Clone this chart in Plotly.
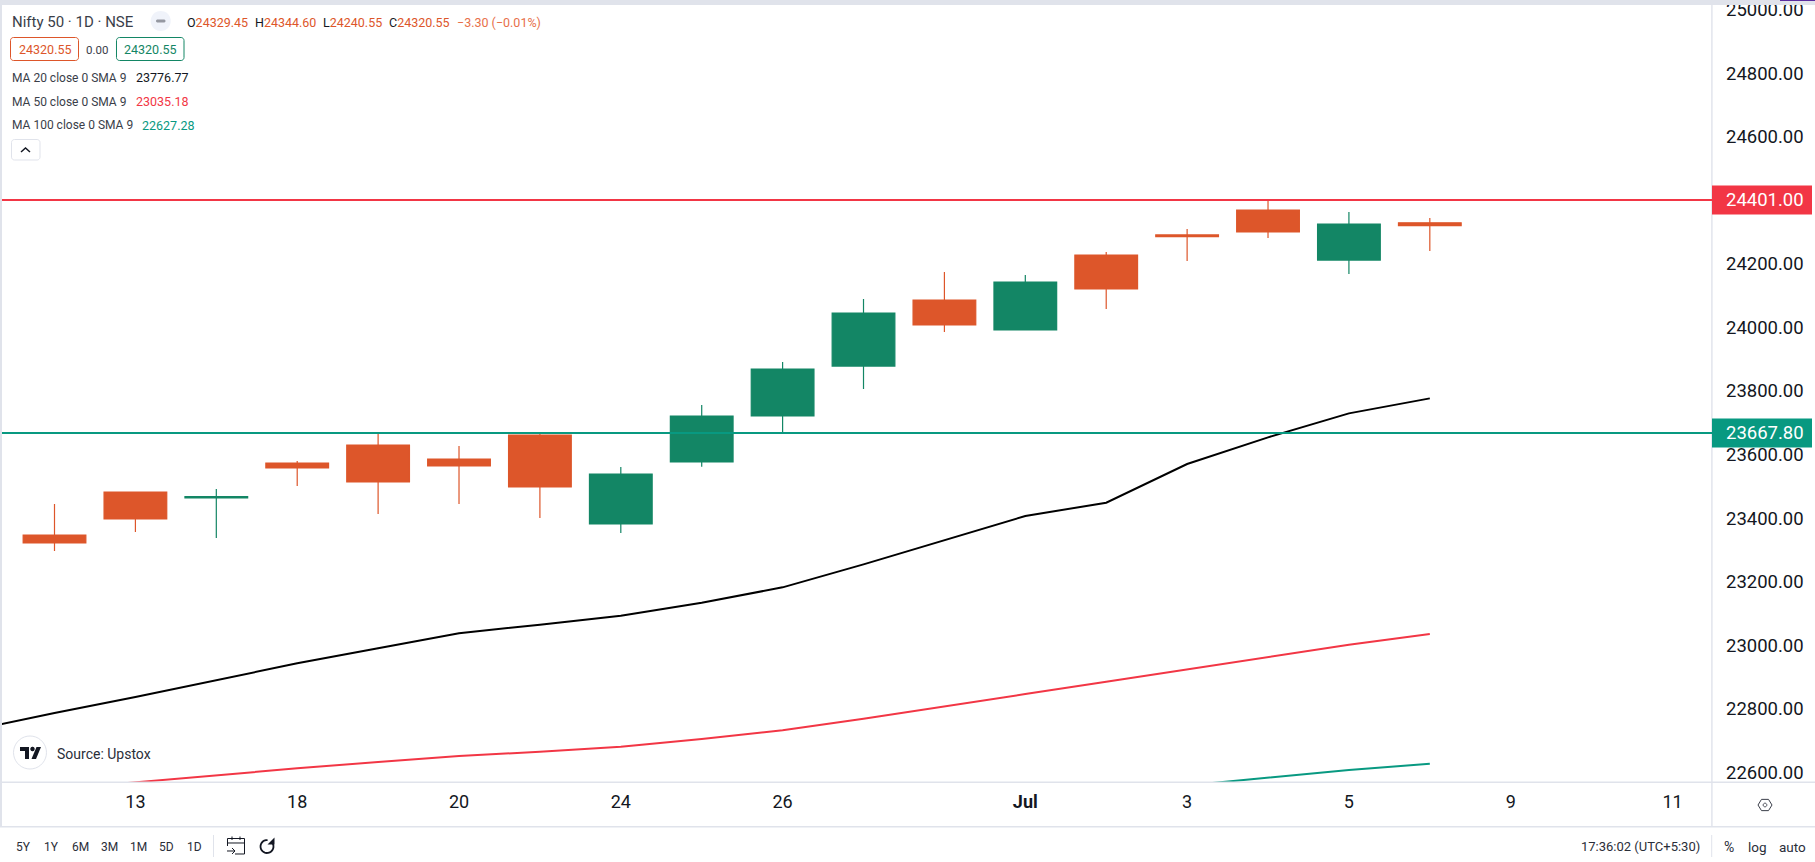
import math
import plotly.graph_objects as go

# ---------- data ----------
sessions = list(range(18))
opens = [23346.9, 23482.2, 23463.5, 23573.5, 23630.1, 23586.0, 23661.6, 23381.5, 23576.6, 23721.3, 23878.6, 24086.3, 23992.0, 24228.0, 24291.0, 24369.5, 24212.0, 24329.45]
highs = [23444.5, 23482.2, 23491.6, 23579.7, 23666.8, 23627.0, 23667.0, 23560.9, 23755.9, 23891.2, 24089.5, 24174.4, 24165.0, 24237.4, 24309.7, 24401.0, 24363.0, 24344.60]
lows = [23296.6, 23356.0, 23337.4, 23501.1, 23413.0, 23444.5, 23400.4, 23353.2, 23562.0, 23671.0, 23806.3, 23985.6, 23992.0, 24058.0, 24209.0, 24281.4, 24168.0, 24240.55]
closes = [23321.7, 23397.2, 23467.5, 23557.7, 23513.7, 23564.0, 23498.0, 23538.8, 23721.3, 23869.2, 24045.4, 24007.7, 24143.0, 24121.0, 24286.0, 24300.3, 24325.5, 24320.55]

ma20_sessions = list(range(-1, 18))
ma20_values = [22733.3, 22786.8, 22837.1, 22889.6, 22943.1, 22990.3, 23037.5, 23064.8, 23093.1, 23133.9,
               23182.2, 23254.6, 23331.1, 23406.6, 23448.6, 23570.3, 23654.2, 23729.7, 23776.77]
ma50_sessions = list(range(0, 18))
ma50_values = [22546.6, 22568.6, 22591.7, 22612.7, 22632.6, 22651.5, 22665.1, 22680.8, 22704.9,
               22732.2, 22768.9, 22806.7, 22846.5, 22885.3, 22924.1, 22961.9, 23001.8, 23035.18]
ma100_sessions = [14, 15, 16, 17]
ma100_values = [22559.0, 22583.3, 22607.4, 22627.28]

resistance = 24401.00
support = 23667.80

x_tick_positions = [1, 3, 5, 7, 9, 12, 14, 16, 18, 20]
x_tick_labels = ["13", "18", "20", "24", "26", "<b>Jul</b>", "3", "5", "9", "11"]
y_tick_values = [22600, 22800, 23000, 23200, 23400, 23600, 23800, 24000, 24200, 24600, 24800, 25000]
y_tick_labels = ["22600.00", "22800.00", "23000.00", "23200.00", "23400.00", "23600.00", "23800.00",
                 "24000.00", "24200.00", "24600.00", "24800.00", "25000.00"]
range_buttons = ["5Y", "1Y", "6M", "3M", "1M", "5D", "1D"]

# ---------- styling ----------
W, H = 1815, 862
L, R, T, B = 2, 1712, 5, 782
ORANGE = "#DD562A"
CANDLE_GREEN = "#138665"
LINE_GREEN = "#089981"
RED = "#F23645"
INK = "#131722"
FRAME = "#E0E3EB"
FONT = "Roboto"


def px(x):
    return (x - L) / (R - L)


def py(y):
    return (B - y) / (B - T)


shapes = []
annotations = []


def rect(x0, y0, x1, y1, fill=None, line=None, lw=1):
    shapes.append(dict(type="rect", xref="paper", yref="paper", x0=px(x0), x1=px(x1), y0=py(y0), y1=py(y1),
                       fillcolor=fill or "rgba(0,0,0,0)", line=dict(color=line or "rgba(0,0,0,0)", width=lw if line else 0),
                       layer="above"))


def path(points, close=False, fill=None, line=None, lw=1):
    d = "M " + " L ".join(f"{px(a):.6f},{py(b):.6f}" for a, b in points) + (" Z" if close else "")
    shapes.append(dict(type="path", xref="paper", yref="paper", path=d,
                       fillcolor=fill or "rgba(0,0,0,0)", line=dict(color=line or "rgba(0,0,0,0)", width=lw if line else 0),
                       layer="above"))


def rounded(x0, y0, x1, y1, r, fill=None, line=None, lw=1):
    pts = []
    for cx, cy, a0 in [(x1 - r, y0 + r, -90), (x1 - r, y1 - r, 0), (x0 + r, y1 - r, 90), (x0 + r, y0 + r, 180)]:
        for k in range(7):
            a = math.radians(a0 + 15 * k)
            pts.append((cx + r * math.cos(a), cy + r * math.sin(a)))
    path(pts, True, fill, line, lw)


def circle(cx, cy, r, fill=None, line=None, lw=1):
    pts = [(cx + r * math.cos(math.radians(a)), cy + r * math.sin(math.radians(a))) for a in range(0, 360, 10)]
    path(pts, True, fill, line, lw)


def label(x, y, text, size=12.5, color=INK, anchor="left"):
    annotations.append(dict(xref="paper", yref="paper", x=px(x), y=py(y), text=text, showarrow=False,
                            xanchor=anchor, yanchor="middle", borderpad=0,
                            font=dict(family=FONT, size=size, color=color)))


def val(v, color=ORANGE):
    return f'<span style="color:{color}">{v}</span>'


# frame
rect(0, 0, W, 5, fill=FRAME)
rect(1780, 0, W, 1, fill="#5B2C9F")
rect(0, 0, 2, 827, fill=FRAME)
rect(2, 781.5, W, 783, fill=FRAME)
rect(0, 826, W, 827.5, fill=FRAME)
rect(1711.2, 5, 1712.6, 827, fill=FRAME)

# level lines (drawn over the candles) and their price tags
for level, colour in [(resistance, RED), (support, LINE_GREEN)]:
    shapes.append(dict(type="line", xref="paper", yref="y", x0=0, x1=1, y0=level, y1=level,
                       line=dict(color=colour, width=2), layer="above"))
    shapes.append(dict(type="rect", xref="paper", yref="y", x0=px(1712), x1=px(1812),
                       y0=level - 14.5 * 3.1466, y1=level + 14.5 * 3.1466,
                       fillcolor=colour, line=dict(width=0), layer="above"))
    annotations.append(dict(xref="paper", yref="y", x=px(1765), y=level, text=f"{level:.2f}", showarrow=False,
                            xanchor="center", yanchor="middle", borderpad=0,
                            font=dict(family=FONT, size=18.5, color="#FFFFFF")))

# legend block
label(11, 22, "Nifty 50 · 1D · NSE", 15, "#3A3E49")
circle(160.7, 21, 10, fill="#F0F3FA")
rounded(156, 19.5, 165.5, 22.5, 1.5, fill="#9598A1")
label(185.5, 22, "O" + val("24329.45"), 12.5)
label(254, 22, "H" + val("24344.60"), 12.5)
label(322, 22, "L" + val("24240.55"), 12.5)
label(387.5, 22, "C" + val("24320.55"), 12.5)
label(455.5, 22, val("−3.30 (−0.01%)", "#E8704A"), 12.5)
rounded(10.5, 37.5, 78.5, 60.5, 3, line=ORANGE, lw=1)
label(44.5, 49.5, "24320.55", 12.5, ORANGE, "center")
label(97, 49.5, "0.00", 11.5, "#3A3E49", "center")
rounded(116.5, 37.5, 184, 60.5, 3, line=CANDLE_GREEN, lw=1)
label(150, 49.5, "24320.55", 12.5, CANDLE_GREEN, "center")
label(11, 77.5, "MA 20 close 0 SMA 9", 12, "#3A3E49")
label(135, 77.5, "23776.77", 12.5, INK)
label(11, 101.5, "MA 50 close 0 SMA 9", 12, "#3A3E49")
label(135, 101.5, "23035.18", 12.5, RED)
label(11, 125.5, "MA 100 close 0 SMA 9", 12, "#3A3E49")
label(141, 125.5, "22627.28", 12.5, LINE_GREEN)
rounded(11.5, 139.5, 40, 160, 3, fill="#FFFFFF", line=FRAME, lw=1)
path([(21, 152), (25.5, 148), (30, 152)], line=INK, lw=1.5)

# attribution
circle(30, 752.5, 16.5, fill="#FFFFFF", line=FRAME, lw=1)
path([(20, 747), (29, 747), (29, 759), (25, 759), (25, 751), (20, 751)], True, fill=INK)
circle(32.5, 749, 2.2, fill=INK)
path([(36.5, 747), (41, 747), (36, 759), (31.5, 759)], True, fill=INK)
label(56, 754, "Source: Upstox", 14, "#2A2E39")

# bottom toolbar
for text, cx in zip(range_buttons, [23, 51, 80, 109, 138, 166.5, 194.5]):
    label(cx, 846.5, text, 12, "#2A2E39", "center")
rect(213, 835, 214, 857, fill=FRAME)
# calendar icon
path([(227.5, 846), (227.5, 838.5), (244.5, 838.5), (244.5, 854), (235, 854)], line=INK, lw=1)
path([(227.5, 843), (244.5, 843)], line=INK, lw=1)
path([(232, 836.5), (232, 840)], line=INK, lw=1)
path([(240, 836.5), (240, 840)], line=INK, lw=1)
path([(227, 851), (235, 851)], line=INK, lw=1)
path([(232, 848), (235, 851), (232, 854)], line=INK, lw=1)
# reload icon
path([(267 + 6.5 * math.cos(math.radians(a)), 846.5 + 6.5 * math.sin(math.radians(a))) for a in range(-40, 290, 15)],
     line=INK, lw=1.8)
path([(274.5, 837.5), (274.5, 844.5), (267.5, 844.5)], True, fill=INK)
# settings hexagon
hexagon = [(1765 + 7 * math.cos(math.radians(a)), 805 + 6.5 * math.sin(math.radians(a))) for a in range(0, 360, 60)]
path(hexagon, True, line="#3A3E49", lw=1)
circle(1765, 805, 1.8, line="#3A3E49", lw=1)

label(1700.5, 846.5, "17:36:02 (UTC+5:30)", 13, "#2A2E39", "right")
rect(1711.2, 835, 1712.2, 857, fill=FRAME)
label(1729, 846.5, "%", 14, "#2A2E39", "center")
label(1757, 846.5, "log", 13.5, "#2A2E39", "center")
label(1792.5, 846.5, "auto", 13.5, "#2A2E39", "center")

# ---------- figure ----------
fig = go.Figure()
fig.add_trace(go.Candlestick(
    x=sessions, open=opens, high=highs, low=lows, close=closes,
    increasing=dict(line=dict(color=CANDLE_GREEN, width=1.2), fillcolor=CANDLE_GREEN),
    decreasing=dict(line=dict(color=ORANGE, width=1.2), fillcolor=ORANGE),
    showlegend=False, name="Nifty 50",
))
for xs, ys, colour, name in [(ma20_sessions, ma20_values, "#000000", "MA 20"),
                             (ma50_sessions, ma50_values, RED, "MA 50"),
                             (ma100_sessions, ma100_values, LINE_GREEN, "MA 100")]:
    fig.add_trace(go.Scatter(x=xs, y=ys, mode="lines", line=dict(color=colour, width=2), name=name, showlegend=False))

fig.update_layout(
    width=W, height=H, autosize=False,
    margin=dict(l=L, r=W - R, t=T, b=H - B, pad=0, autoexpand=False),
    paper_bgcolor="#FFFFFF", plot_bgcolor="#FFFFFF",
    boxgap=0.225, boxgroupgap=0,
    font=dict(family=FONT, color=INK),
    shapes=shapes, annotations=annotations,
    xaxis=dict(range=[-0.649, 20.488], rangeslider=dict(visible=False), showgrid=False, zeroline=False,
               showline=False, automargin=False, tickmode="array", tickvals=x_tick_positions, ticktext=x_tick_labels,
               ticks="", tickfont=dict(family=FONT, size=18, color=INK), ticklabelstandoff=7),
    yaxis=dict(range=[22569.7, 25014.6], side="right", showgrid=False, zeroline=False, showline=False, automargin=False,
               tickmode="array", tickvals=y_tick_values, ticktext=y_tick_labels, ticklabeloverflow="allow",
               ticks="", tickfont=dict(family=FONT, size=18.5, color=INK), ticklabelstandoff=13),
)
fig.write_html("out.html", config=dict(displayModeBar=False),
               post_script="document.body.style.margin='0';document.documentElement.style.overflow='hidden';")
